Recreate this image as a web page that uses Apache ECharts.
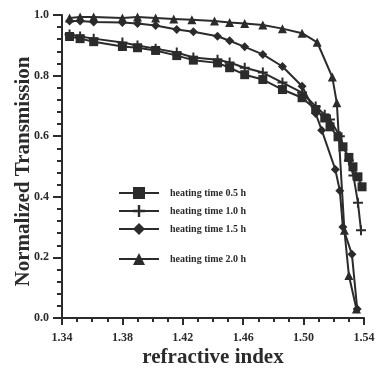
<!DOCTYPE html>
<html><head><meta charset="utf-8">
<script src="https://cdn.jsdelivr.net/npm/echarts@6/dist/echarts.min.js"></script>
<style>html,body{margin:0;padding:0;background:#fff}#c{width:378px;height:368px}</style>
</head><body><div id="c"></div>
<script>
const xTickLabels = ['1.34','1.38','1.42','1.46','1.50','1.54'];
const yTickLabels = ['0.0','0.2','0.4','0.6','0.8','1.0'];
const seriesNames = ['heating time 0.5 h','heating time 1.0 h','heating time 1.5 h','heating time 2.0 h'];

const x05 = [1.345,1.352,1.361,1.380,1.390,1.402,1.416,1.427,1.443,1.451,1.461,1.473,1.486,1.499,1.508,1.514,1.5175,1.5228,1.5261,1.530,1.5327,1.536,1.5387];
const y05 = [0.929,0.922,0.912,0.896,0.892,0.883,0.866,0.851,0.842,0.826,0.803,0.787,0.754,0.727,0.688,0.660,0.631,0.598,0.565,0.530,0.499,0.466,0.433];

const x10 = [1.345,1.352,1.361,1.380,1.390,1.402,1.416,1.427,1.443,1.451,1.461,1.473,1.486,1.499,1.508,1.514,1.5175,1.524,1.530,1.533,1.536,1.538];
const y10 = [0.936,0.929,0.922,0.909,0.899,0.889,0.876,0.860,0.852,0.843,0.826,0.810,0.777,0.744,0.698,0.671,0.655,0.600,0.520,0.470,0.380,0.290];

const x15 = [1.345,1.352,1.361,1.380,1.390,1.402,1.416,1.427,1.443,1.451,1.461,1.473,1.486,1.499,1.508,1.512,1.521,1.524,1.526,1.532,1.5355];
const y15 = [0.980,0.980,0.977,0.975,0.972,0.965,0.952,0.945,0.930,0.915,0.895,0.870,0.830,0.765,0.675,0.620,0.490,0.420,0.300,0.210,0.030];

const x20 = [1.345,1.352,1.361,1.380,1.390,1.402,1.414,1.426,1.441,1.451,1.461,1.473,1.486,1.499,1.509,1.519,1.522,1.527,1.530,1.535];
const y20 = [0.990,0.993,0.993,0.990,0.993,0.990,0.987,0.984,0.980,0.975,0.972,0.967,0.955,0.940,0.910,0.795,0.710,0.290,0.140,0.030];

const plusPath = 'path://M4,0h2v4h4v2h-4v4h-2v-4h-4v-2h4z';
const symbols = ['rect', plusPath, 'diamond', 'triangle'];
const symbolSizes = [9, 10, 9, 9];
const xs = [x05, x10, x15, x20];
const ys = [y05, y10, y15, y20];
const ink = '#2b2b2b';
const serif = '"Liberation Serif","DejaVu Serif",serif';

const chart = echarts.init(document.getElementById('c'), null, {renderer:'canvas'});
const series = seriesNames.map((name, i) => ({
  name, type: 'line',
  data: xs[i].map((x, k) => [x, ys[i][k]]),
  symbol: symbols[i], symbolSize: symbolSizes[i],
  showAllSymbol: true,
  lineStyle: {color: ink, width: 2},
  itemStyle: {color: ink, borderWidth: 0},
  emphasis: {disabled: true},
  z: 3 + i
}));

const legendText = {fontFamily: serif, fontWeight: 'bold', fontSize: 10, color: ink, padding: [0,0,0,6], letterSpacing: 0.5};
chart.setOption({
  animation: false,
  backgroundColor: '#ffffff',
  grid: {left: 62, right: 14, top: 15, bottom: 50, containLabel: false, outerBoundsMode: 'none'},
  legend: [
    {data: seriesNames.slice(0,3), orient: 'vertical', left: 113, top: 182, itemWidth: 40, itemHeight: 15, itemGap: 6, textStyle: legendText, selectedMode: false},
    {data: seriesNames.slice(3), orient: 'vertical', left: 113, top: 248, itemWidth: 40, itemHeight: 15, itemGap: 6, textStyle: legendText, selectedMode: false}
  ],
  xAxis: {
    type: 'value', min: 1.34, max: 1.54, interval: 0.04,
    name: 'refractive index', nameLocation: 'middle', nameGap: 29, nameMoveOverlap: false,
    nameTextStyle: {fontFamily: serif, fontWeight: 'bold', fontSize: 21, color: ink, letterSpacing: 2.5},
    axisLine: {lineStyle: {color: ink, width: 2}},
    axisTick: {show: true, length: 7, lineStyle: {color: ink, width: 2}},
    minorTick: {show: true, splitNumber: 4, length: 4, lineStyle: {color: ink, width: 2}},
    splitLine: {show: false},
    axisLabel: {fontFamily: serif, fontWeight: 'bold', fontSize: 12, color: ink, margin: 14,
      formatter: v => xTickLabels.find(t => Math.abs(parseFloat(t) - v) < 1e-6) || ''}
  },
  yAxis: {
    type: 'value', min: 0, max: 1.0, interval: 0.2,
    name: 'Normalized Transmission', nameLocation: 'middle', nameGap: 28, nameMoveOverlap: false,
    nameTextStyle: {fontFamily: serif, fontWeight: 'bold', fontSize: 21, color: ink, letterSpacing: 1.5, padding: [0, 10, 0, 0]},
    axisLine: {lineStyle: {color: ink, width: 2}},
    axisTick: {show: true, length: 9, lineStyle: {color: ink, width: 2}},
    minorTick: {show: true, splitNumber: 5, length: 5, lineStyle: {color: ink, width: 2}},
    splitLine: {show: false},
    axisLabel: {fontFamily: serif, fontWeight: 'bold', fontSize: 12, color: ink, margin: 13,
      formatter: v => yTickLabels.find(t => Math.abs(parseFloat(t) - v) < 1e-6) || ''}
  },
  series
});
</script></body></html>
